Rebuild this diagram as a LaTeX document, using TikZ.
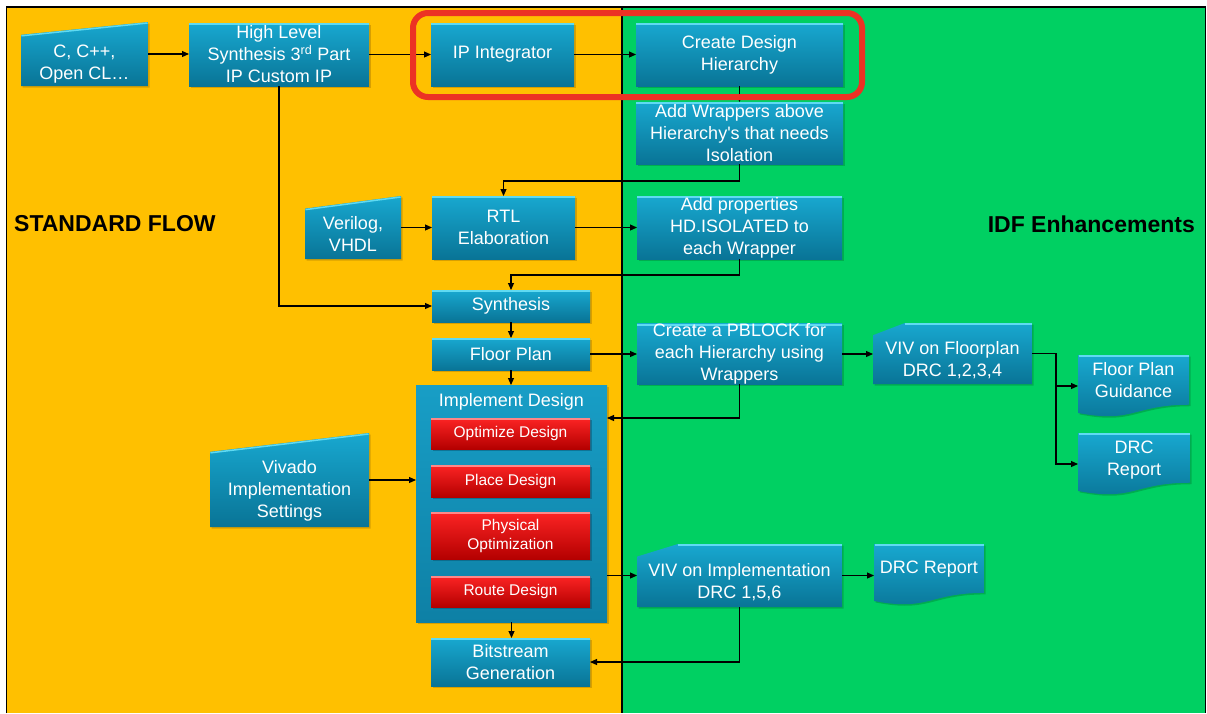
\documentclass[tikz,border=0pt]{standalone}
\usepackage{fontspec}
\setmainfont{Liberation Sans}
\usetikzlibrary{arrows.meta,shadows,calc}

\definecolor{panelA}{RGB}{255,192,0}
\definecolor{panelB}{RGB}{0,208,98}
\definecolor{shadeA}{RGB}{178,128,0}
\definecolor{shadeB}{RGB}{0,140,62}
\definecolor{shadeC}{RGB}{8,84,112}
\definecolor{boxtop}{RGB}{24,168,208}
\definecolor{boxbot}{RGB}{9,116,150}
\definecolor{boxline}{RGB}{95,218,242}
\definecolor{holdtop}{RGB}{24,158,198}
\definecolor{holdbot}{RGB}{14,128,165}
\definecolor{redtop}{RGB}{252,36,36}
\definecolor{redbot}{RGB}{180,0,0}
\definecolor{redline}{RGB}{255,135,135}
\definecolor{ring}{RGB}{236,50,36}

\pgfdeclarelayer{panels}
\pgfdeclarelayer{shapes}
\pgfsetlayers{panels,shapes,main}

\tikzset{
  shadow tint/.initial=shadeA,
  ongreen/.style={shadow tint=shadeB},
  shadowed/.style={drop shadow={shadow xshift=1.5pt, shadow yshift=-1.5pt,
      fill=\pgfkeysvalueof{/tikz/shadow tint}}},
  % vertical gradient, optionally with a light strip along the top edge
  glossy/.style 2 args={shadowed, path picture={
      \shade[top color=#1, bottom color=#2] (path picture bounding box.south west)
        rectangle (path picture bounding box.north east);}},
  glossystrip/.style n args={3}{shadowed, path picture={
      \shade[top color=#1, bottom color=#2] (path picture bounding box.south west)
        rectangle (path picture bounding box.north east);
      \fill[#3] (path picture bounding box.north west)
        rectangle ([yshift=-2pt]path picture bounding box.north east);}},
  shade3d/.style={glossy={boxtop}{boxbot}},
  bluebox/.style={rectangle, glossystrip={boxtop}{boxbot}{boxline}, inner sep=0pt, outer sep=0pt,
    text=white, align=center, font=\fontsize{18}{22}\selectfont},
  redbox/.style={rectangle, shadow tint=shadeC, glossystrip={redtop}{redbot}{redline},
    inner sep=0pt, outer sep=0pt,
    text=white, align=center, font=\fontsize{15.5}{19}\selectfont, minimum width=159pt},
  holder/.style={rectangle, glossy={holdtop}{holdbot}, inner sep=0pt, outer sep=0pt},
  slot/.style={rectangle, inner sep=0pt, outer sep=0pt},
  boxtext/.style={text=white, align=center, font=\fontsize{18}{22}\selectfont, inner sep=0pt},
  heading/.style={text=black, font=\bfseries\fontsize{23}{27}\selectfont, inner sep=0pt},
  flow/.style={draw=black, line width=1.1pt, -{Triangle[length=7pt,width=6pt]}},
}

% manual input: top edge rises from 20% down on the left to the top right corner
\newcommand\manualshape[2][]{%
  \path[#1, shade3d] (#2.south west) -- (#2.south east) -- (#2.north east)
    -- ($(#2.north west)!0.2!(#2.south west)$) -- cycle;
  \draw[boxline, line width=1.5pt] ($(#2.north west)!0.2!(#2.south west)+(0.5,1)$)
    -- ($(#2.north east)+(-0.5,1)$);}
% punched card: top left corner cut off
\newcommand\cardshape[2][]{%
  \path[#1, shade3d] (#2.south west) -- (#2.south east) -- (#2.north east)
    -- ($(#2.north west)!0.2!(#2.north east)$)
    -- ($(#2.north west)!0.2!(#2.south west)$) -- cycle;
  \draw[boxline, line width=1.5pt] ($(#2.north west)!0.2!(#2.north east)+(0,1)$)
    -- ($(#2.north east)+(-0.5,1)$);}
% document: wavy bottom edge
\newcommand\docshape[2][]{%
  \path[#1, shade3d] let \p1=(#2.north west), \p2=(#2.south east) in
    (\x1,\y1) -- (\x2,\y1) -- (\x2,{\y1+0.802*(\y2-\y1)})
    .. controls ({0.5*(\x1+\x2)},{\y1+0.802*(\y2-\y1)})
    and ({0.5*(\x1+\x2)},{\y1+1.108*(\y2-\y1)}) .. (\x1,{\y1+0.934*(\y2-\y1)}) -- cycle;
  \draw[boxline, line width=1.5pt] ($(#2.north west)+(0.5,1)$) -- ($(#2.north east)+(-0.5,1)$);}

\begin{document}
\begin{tikzpicture}[x=1pt,y=-1pt]
\useasboundingbox (0,0) rectangle (1207,713);

\begin{pgfonlayer}{panels}
  \fill[panelA] (7,7) rectangle (622,713);
  \fill[panelB] (622,7) rectangle (1205.5,713);
  \draw[black, line width=1.6pt] (6.5,713) -- (6.5,7) -- (1205.5,7) -- (1205.5,713);
  \draw[black, line width=1.2pt] (622,7) -- (622,713);
\end{pgfonlayer}

% side headings
\node[heading, anchor=west] (hstd) at (14,224) {STANDARD FLOW};
\node[heading, anchor=east] (hidf) at (1195,224) {IDF Enhancements};

% top row
\node[slot, minimum width=127pt, minimum height=64pt] (cin) at (84.5,54) {};
\node[boxtext] (cin-t) at ($(cin.center)+(0,10)$) {C, C++,\\Open CL…};
\node[bluebox, minimum width=180pt, minimum height=63pt] (hls) at (279,54.5)
  {High Level\\Synthesis 3\textsuperscript{rd} Part\\IP Custom IP};
\node[bluebox, minimum width=143pt, minimum height=63pt] (ipi) at (502.5,54.5) {IP Integrator};
\node[bluebox, ongreen, minimum width=207pt, minimum height=63pt] (cdh) at (739.5,54.5) {Create Design\\Hierarchy};
\node[bluebox, ongreen, minimum width=207pt, minimum height=62pt] (wrap) at (739.5,133)
  {Add Wrappers above\\Hierarchy\textquotesingle s that needs\\Isolation};

% elaboration row
\node[slot, minimum width=96pt, minimum height=63pt] (vlog) at (353,227.5) {};
\node[boxtext] (vlog-t) at ($(vlog.center)+(0,6)$) {Verilog,\\VHDL};
\node[bluebox, minimum width=143pt, minimum height=63pt] (rtl) at (503.5,227.5) {RTL\\Elaboration};
\node[bluebox, ongreen, minimum width=205pt, minimum height=63pt] (props) at (739.5,227.5)
  {Add properties\\HD.ISOLATED to\\each Wrapper};

% synthesis and floorplanning
\node[bluebox, minimum width=158pt, minimum height=32pt] (synth) at (511,306) {Synthesis};
\node[bluebox, minimum width=158pt, minimum height=32pt] (fplan) at (511,354) {Floor Plan};
\node[bluebox, ongreen, minimum width=205pt, minimum height=60pt] (pblock) at (739.5,354)
  {Create a PBLOCK for\\each Hierarchy using\\Wrappers};
\node[slot, minimum width=159pt, minimum height=61pt] (vivfp) at (952.5,353.5) {};
\node[boxtext] (vivfp-t) at ($(vivfp.center)+(0,7)$) {VIV on Floorplan\\DRC 1,2,3,4};
\node[slot, minimum width=111pt, minimum height=62pt] (fpg) at (1133.5,386) {};
\node[boxtext] (fpg-t) at ($(fpg.center)+(0,-6)$) {Floor Plan\\Guidance};
\node[slot, minimum width=112pt, minimum height=62pt] (drca) at (1134,464) {};
\node[boxtext] (drca-t) at ($(drca.center)+(0,-4)$) {DRC\\Report};

% implementation
\node[slot, minimum width=159pt, minimum height=94pt] (vis) at (289.5,480) {};
\node[boxtext] (vis-t) at ($(vis.center)+(0,11)$) {Vivado\\Implementation\\Settings};
\node[holder, minimum width=191pt, minimum height=237pt] (impl) at (511.5,503.5) {};
\node[boxtext] (impl-t) at (511.5,402) {Implement Design};
\node[redbox, minimum height=31pt] (opt) at (510.5,433.5) {Optimize Design};
\node[redbox, minimum height=32pt] (place) at (510.5,481) {Place Design};
\node[redbox, minimum height=47pt] (phys) at (510.5,535.5) {Physical\\Optimization};
\node[redbox, minimum height=31pt] (route) at (510.5,591.5) {Route Design};
\node[bluebox, minimum width=159pt, minimum height=48pt] (bit) at (510.5,662) {Bitstream\\Generation};
\node[slot, minimum width=205pt, minimum height=63pt] (vivim) at (739.5,575.5) {};
\node[boxtext] (vivim-t) at ($(vivim.center)+(0,7)$) {VIV on Implementation\\DRC 1,5,6};
\node[slot, minimum width=110pt, minimum height=61pt] (drcb) at (929,574.5) {};
\node[boxtext] (drcb-t) at ($(drcb.center)+(0,-5)$) {DRC Report};

% outlines of the non-rectangular symbols
\begin{pgfonlayer}{shapes}
  \manualshape{cin}
  \manualshape{vlog}
  \manualshape{vis}
  \cardshape[ongreen]{vivfp}
  \cardshape[ongreen]{vivim}
  \docshape[ongreen]{fpg}
  \docshape[ongreen]{drca}
  \docshape[ongreen]{drcb}
\end{pgfonlayer}

% connectors
\draw[flow] (cin.east) -- (cin.east -| hls.west);
\draw[flow] (hls.east) -- (ipi.west);
\draw[flow] (ipi.east) -- (cdh.west);
\draw[flow] (cdh.south) -- (wrap.north);
\draw[flow] (wrap.south) -- ++(0,17) -| (rtl.north);
\draw[flow] (vlog.east) -- (vlog.east -| rtl.west);
\draw[flow] (rtl.east) -- (props.west);
\draw[flow] (props.south) -- ++(0,16) -| (synth.north);
\draw[flow] (hls.south) |- (synth.west);
\draw[flow] (synth.south) -- (fplan.north);
\draw[flow] (fplan.east) -- (pblock.west);
\draw[flow] (fplan.south) -- (fplan.south |- impl.north);
\draw[flow] (pblock.south) |- ($(impl.north east)+(0,33)$);
\draw[flow] (pblock.east) -- (pblock.east -| vivfp.west);
\draw[flow] (vivfp.east) -- ++(24,0) |- (fpg.west);
\draw[flow] (vivfp.east) -- ++(24,0) |- (drca.west);
\draw[flow] (vis.east) -- (vis.east -| impl.west);
\draw[flow] (impl.south) -- (impl.south |- bit.north);
\draw[flow] (vivim.west -| impl.east) -- (vivim.west);
\draw[flow] (vivim.east) -- (vivim.east -| drcb.west);
\draw[flow] (vivim.south) |- (bit.east);

% highlight ring around the integrator step
\draw[ring, line width=6pt, rounded corners=15pt] (413,13) rectangle (862,97);
\end{tikzpicture}
\end{document}
